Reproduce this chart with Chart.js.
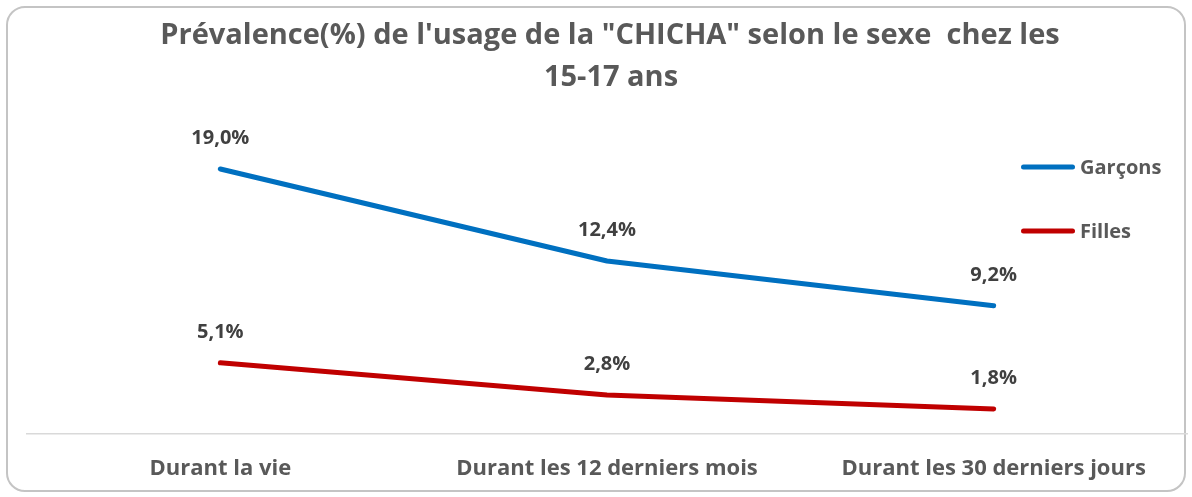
<!DOCTYPE html>
<html>
<head>
<meta charset="utf-8">
<script src="https://cdn.jsdelivr.net/npm/chart.js@4/dist/chart.umd.min.js"></script>
<style>
html,body{margin:0;padding:0;background:#fff;}
#wrap{width:1192px;height:497px;position:relative;}
</style>
</head>
<body>
<div id="wrap"><canvas id="c" width="1192" height="497"></canvas></div>
<script>
const categories = ["Durant la vie", "Durant les 12 derniers mois", "Durant les 30 derniers jours"];
const garcons = [19.0, 12.4, 9.2];
const filles = [5.1, 2.8, 1.8];
const seriesNames = ["Garçons", "Filles"];
const titleLines = ["Prévalence(%) de l'usage de la \"CHICHA\" selon le sexe  chez les", "15-17 ans"];
const colors = ["#0070C0", "#C00000"];
const FONT = "'Open Sans', sans-serif";

function fmt(v){ return v.toFixed(1).replace('.', ',') + '%'; }

const decor = {
  id: 'decor',
  beforeDraw(chart){
    const ctx = chart.ctx;
    ctx.save();
    ctx.fillStyle = '#fff';
    ctx.fillRect(0,0,chart.width,chart.height);
    ctx.strokeStyle = '#c4c4c4';
    ctx.lineWidth = 2;
    ctx.beginPath();
    ctx.roundRect(7,7,1178,484,18);
    ctx.stroke();
    ctx.restore();
  },
  afterDatasetsDraw(chart){
    const ctx = chart.ctx;
    ctx.save();
    // title
    ctx.fillStyle = '#595959';
    ctx.font = "bold 29px " + FONT;
    ctx.textAlign = 'center';
    ctx.textBaseline = 'alphabetic';
    ctx.fillText(titleLines[0], 610, 44);
    ctx.fillText(titleLines[1], 611, 86);
    // data labels
    ctx.fillStyle = '#404040';
    ctx.font = "bold 20px " + FONT;
    chart.data.datasets.forEach((ds, i) => {
      const meta = chart.getDatasetMeta(i);
      meta.data.forEach((pt, j) => {
        ctx.fillText(fmt(ds.data[j]), pt.x, pt.y - 25);
      });
    });
    // legend
    const ly = [167, 231];
    ctx.textAlign = 'left';
    ctx.font = "bold 20px " + FONT;
    seriesNames.forEach((n, i) => {
      ctx.strokeStyle = colors[i];
      ctx.lineWidth = 5;
      ctx.lineCap = 'round';
      ctx.beginPath();
      ctx.moveTo(1023.5, ly[i]);
      ctx.lineTo(1072.5, ly[i]);
      ctx.stroke();
      ctx.fillStyle = '#595959';
      ctx.fillText(n, 1080, ly[i] + 7);
    });
    ctx.restore();
  }
};

new Chart(document.getElementById('c'), {
  type: 'line',
  data: {
    labels: categories,
    datasets: [
      { label: seriesNames[0], data: garcons, borderColor: colors[0], backgroundColor: colors[0], borderWidth: 5, pointRadius: 0, tension: 0, borderCapStyle: 'round', borderJoinStyle: 'round' },
      { label: seriesNames[1], data: filles, borderColor: colors[1], backgroundColor: colors[1], borderWidth: 5, pointRadius: 0, tension: 0, borderCapStyle: 'round', borderJoinStyle: 'round' }
    ]
  },
  options: {
    responsive: false,
    animation: false,
    devicePixelRatio: 1,
    layout: { padding: { top: 155, left: 27, right: 5, bottom: 17 } },
    plugins: { legend: { display: false }, title: { display: false }, tooltip: { enabled: false } },
    scales: {
      x: {
        offset: true,
        grid: { display: false, drawTicks: false },
        border: { display: true, color: '#d9d9d9', width: 1.5 },
        ticks: { color: '#595959', font: { family: FONT, size: 22, weight: 'bold' }, padding: 22, maxRotation: 0, autoSkip: false },
        afterFit(scale){ scale.height = 46; }
      },
      y: { display: false, min: 0, max: 20 }
    }
  },
  plugins: [decor]
});
</script>
</body>
</html>
